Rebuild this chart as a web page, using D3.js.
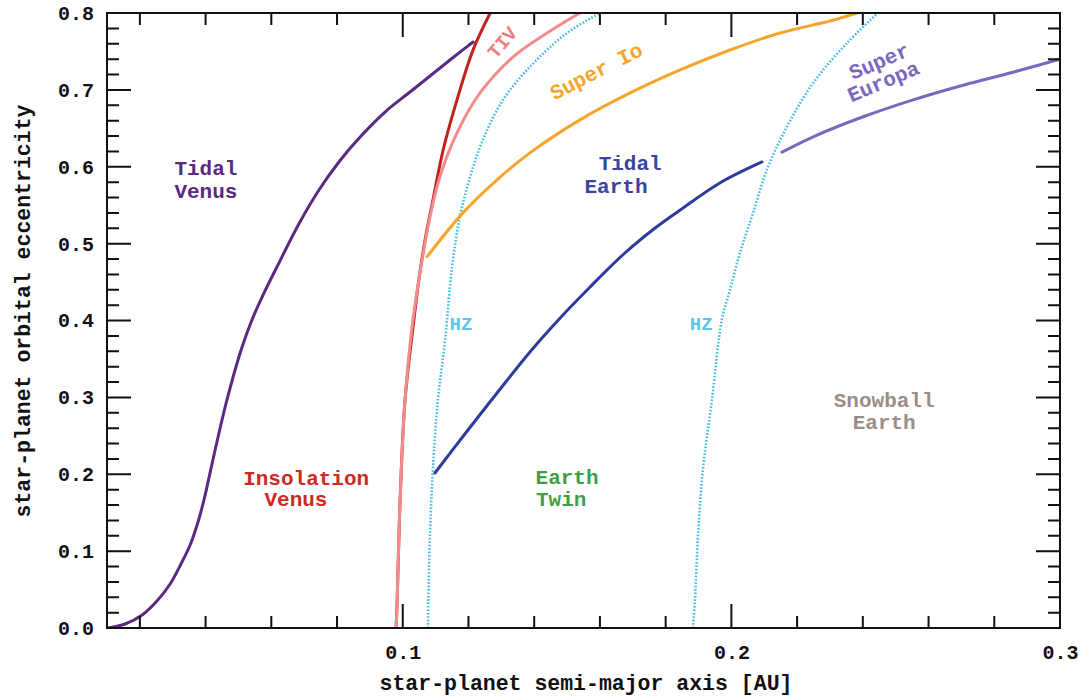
<!DOCTYPE html>
<html>
<head>
<meta charset="utf-8">
<script src="https://cdn.jsdelivr.net/npm/d3@7"></script>
<style>
  body { margin: 0; background: #fff; }
  text { font-family: "Liberation Mono", "Courier New", monospace; font-weight: bold; }
</style>
</head>
<body>
<div id="chart"></div>
<script>
// curves: [semi-major axis (AU), eccentricity]
const tidalVenus = [[0.0103,0],[0.0155,0.0052],[0.0207,0.0169],[0.0252,0.0351],[0.0292,0.0572],[0.0325,0.0833],
  [0.0353,0.108],[0.0377,0.1379],[0.0395,0.1665],[0.0429,0.2315],[0.0465,0.2966],[0.0508,0.3616],[0.0541,0.4007],
  [0.0575,0.4332],[0.0617,0.4696],[0.0687,0.5281],[0.0745,0.5698],[0.0808,0.6075],[0.0873,0.6400],[0.0946,0.6712],
  [0.1022,0.6972],[0.1098,0.7233],[0.1159,0.7441],[0.1214,0.7623]];
const insolationVenus = [[0.0980,0],[0.0983,0.036],[0.0992,0.167],[0.1007,0.297],[0.1034,0.401],[0.1049,0.453],
  [0.1068,0.505],[0.1092,0.557],[0.1123,0.622],[0.1165,0.687],[0.1214,0.752],[0.1266,0.8]];
const tiv = [[0.0980,0],[0.0983,0.036],[0.0992,0.167],[0.1007,0.297],[0.1031,0.401],[0.1059,0.479],[0.1083,0.535],
  [0.1113,0.587],[0.1165,0.644],[0.1235,0.696],[0.1336,0.743],[0.1439,0.774],[0.1539,0.8]];
const hzInner = [[0.1077,0],[0.1078,0.036],[0.1083,0.124],[0.1092,0.209],[0.1107,0.297],[0.1129,0.375],
  [0.1150,0.470],[0.1174,0.535],[0.1205,0.587],[0.1244,0.635],[0.1305,0.687],[0.1387,0.730],[0.150,0.774],[0.160,0.8]];
const hzOuter = [[0.1883,0],[0.1889,0.036],[0.1899,0.124],[0.1914,0.209],[0.1941,0.297],[0.1971,0.401],
  [0.1996,0.440],[0.2026,0.488],[0.2066,0.540],[0.2108,0.596],[0.2169,0.652],[0.2249,0.709],[0.2352,0.761],[0.2446,0.8]];
const superIo = [[0.1074,0.483],[0.1183,0.540],[0.1287,0.583],[0.1387,0.618],[0.1539,0.661],[0.1692,0.696],
  [0.1844,0.7259],[0.1996,0.7519],[0.2148,0.774],[0.2300,0.7896],[0.2382,0.8]];
const tidalEarth = [[0.1098,0.2016],[0.1189,0.2524],[0.1287,0.3057],[0.1387,0.3590],[0.1479,0.4033],
  [0.1570,0.4436],[0.1676,0.4878],[0.1768,0.5203],[0.1844,0.5437],[0.1965,0.5789],[0.2093,0.6062]];
const superEuropa = [[0.2154,0.619],[0.2249,0.639],[0.2401,0.665],[0.2553,0.687],[0.2705,0.706],[0.2857,0.723],[0.3,0.740]];

const xTicks = [0.1, 0.2, 0.3];
const yTicks = [0, 0.1, 0.2, 0.3, 0.4, 0.5, 0.6, 0.7, 0.8];

const W = 1083, H = 698;
const margin = {top: 13, right: 23, bottom: 70, left: 107};

const svg = d3.select("#chart").append("svg")
    .attr("width", W)
    .attr("height", H);

const x = d3.scaleLinear().domain([0.01, 0.3]).range([margin.left, W - margin.right]);
const y = d3.scaleLinear().domain([0, 0.8]).range([H - margin.bottom, margin.top]);

const isMajor = v => Math.abs(v * 10 - Math.round(v * 10)) < 1e-6;
const xMinor = d3.range(0.02, 0.3, 0.02).filter(v => !isMajor(v));
const yMinor = d3.range(0.02, 0.8, 0.02).filter(v => !isMajor(v));

const line = d3.line()
    .x(d => x(d[0]))
    .y(d => y(d[1]))
    .curve(d3.curveCatmullRom.alpha(0.5));

svg.append("clipPath").attr("id", "clip")
  .append("rect")
    .attr("x", x.range()[0]).attr("y", y.range()[1])
    .attr("width", x.range()[1] - x.range()[0])
    .attr("height", y.range()[0] - y.range()[1]);

const plot = svg.append("g").attr("clip-path", "url(#clip)");

const curves = [
  {data: hzInner, color: "#45bde6", width: 2.6, dash: "1.6,1.8"},
  {data: hzOuter, color: "#45bde6", width: 2.6, dash: "1.6,1.8"},
  {data: tidalVenus, color: "#5a2a80", width: 3},
  {data: insolationVenus, color: "#c3221c", width: 3},
  {data: tiv, color: "#f28b8b", width: 3},
  {data: superIo, color: "#f7a52a", width: 3},
  {data: tidalEarth, color: "#2d3c9c", width: 3},
  {data: superEuropa, color: "#7b68bd", width: 3}
];

plot.selectAll("path.curve")
  .data(curves)
  .join("path")
    .attr("class", "curve")
    .attr("d", d => line(d.data))
    .attr("fill", "none")
    .attr("stroke", d => d.color)
    .attr("stroke-width", d => d.width)
    .attr("stroke-dasharray", d => d.dash || null)
    .attr("stroke-linecap", d => d.dash ? "butt" : "round");

const bottomY = y(0), topY = y(0.8), leftX = x(0.01), rightX = x(0.3);

// frame and inward tick marks as one path, tick positions from the scales
const frame = d3.path();
frame.rect(leftX, topY, rightX - leftX, bottomY - topY);
const xMarks = xTicks.map(v => [v, 24]).concat(xMinor.map(v => [v, 12]));
const yMarks = yTicks.map(v => [v, 24]).concat(yMinor.map(v => [v, 12]));
xMarks.forEach(([v, len]) => {
  const px = x(v);
  frame.moveTo(px, bottomY); frame.lineTo(px, bottomY - len);
  frame.moveTo(px, topY); frame.lineTo(px, topY + len);
});
yMarks.forEach(([v, len]) => {
  const py = y(v);
  frame.moveTo(leftX, py); frame.lineTo(leftX + len, py);
  frame.moveTo(rightX, py); frame.lineTo(rightX - len, py);
});
svg.append("path")
    .attr("class", "frame")
    .attr("d", frame.toString())
    .attr("fill", "none")
    .attr("stroke", "#111")
    .attr("stroke-width", 2);

// tick labels
const xLab = svg.append("g")
    .attr("transform", `translate(0,${bottomY})`)
    .call(d3.axisBottom(x).tickValues(xTicks).tickSize(0).tickPadding(17).tickFormat(d3.format(".1f")));
xLab.select(".domain").remove();
xLab.selectAll("text").attr("font-size", 20).attr("fill", "#111")
    .style("font-family", '"Liberation Mono", monospace').style("font-weight", "bold");

const yLab = svg.append("g")
    .attr("transform", `translate(${leftX},0)`)
    .call(d3.axisLeft(y).tickValues(yTicks).tickSize(0).tickPadding(13).tickFormat(d3.format(".1f")));
yLab.select(".domain").remove();
yLab.selectAll("text").attr("font-size", 20).attr("fill", "#111")
    .style("font-family", '"Liberation Mono", monospace').style("font-weight", "bold");

// axis titles
svg.append("text")
    .attr("x", 586).attr("y", 690)
    .attr("text-anchor", "middle").attr("font-size", 21.5).attr("fill", "#111")
    .text("star-planet semi-major axis [AU]");
svg.append("text")
    .attr("transform", "translate(30,311) rotate(-90)")
    .attr("text-anchor", "middle").attr("font-size", 21.5).attr("fill", "#111")
    .text("star-planet orbital eccentricity");

// region labels (positions are label centres)
const labels = [
  {t: "Tidal", a: 0.0401, e: 0.5984, c: "#5a2a80"},
  {t: "Venus", a: 0.0401, e: 0.5685, c: "#5a2a80"},
  {t: "Insolation", a: 0.0706, e: 0.1951, c: "#d0281f"},
  {t: "Venus", a: 0.0675, e: 0.1678, c: "#d0281f"},
  {t: "Tidal", a: 0.1692, e: 0.6049, c: "#3a43a0"},
  {t: "Earth", a: 0.1649, e: 0.5750, c: "#3a43a0"},
  {t: "Earth", a: 0.1500, e: 0.1964, c: "#3f9f45"},
  {t: "Twin", a: 0.1482, e: 0.1678, c: "#3f9f45"},
  {t: "Snowball", a: 0.2465, e: 0.2966, c: "#9a8e86"},
  {t: "Earth", a: 0.2465, e: 0.2680, c: "#9a8e86"}
];
svg.append("g").selectAll("text")
  .data(labels)
  .join("text")
    .attr("x", d => x(d.a))
    .attr("y", d => y(d.e))
    .attr("dy", "0.35em")
    .attr("text-anchor", "middle")
    .attr("font-size", 21)
    .attr("fill", d => d.c)
    .text(d => d.t);

const hzLabels = [{a: 0.1177, e: 0.3967}, {a: 0.1908, e: 0.3967}];
svg.append("g").selectAll("text")
  .data(hzLabels)
  .join("text")
    .attr("x", d => x(d.a))
    .attr("y", d => y(d.e))
    .attr("dy", "0.35em")
    .attr("text-anchor", "middle")
    .attr("font-size", 19)
    .attr("fill", "#5cc6ea")
    .text("HZ");

// rotated labels
const rotLabels = [
  {t: "TIV", a: 0.1302, e: 0.762, r: -50, c: "#f07e7e", s: 19},
  {t: "Super Io", a: 0.1588, e: 0.7246, r: -27, c: "#f7a52a", s: 21},
  {t: "Super", a: 0.2449, e: 0.7376, r: -23, c: "#7b68bd", s: 21},
  {t: "Europa", a: 0.2462, e: 0.7115, r: -23, c: "#7b68bd", s: 21}
];
svg.append("g").selectAll("text")
  .data(rotLabels)
  .join("text")
    .attr("transform", d => `translate(${x(d.a)},${y(d.e)}) rotate(${d.r})`)
    .attr("dy", "0.35em")
    .attr("text-anchor", "middle")
    .attr("font-size", d => d.s)
    .attr("fill", d => d.c)
    .text(d => d.t);
</script>
</body>
</html>
